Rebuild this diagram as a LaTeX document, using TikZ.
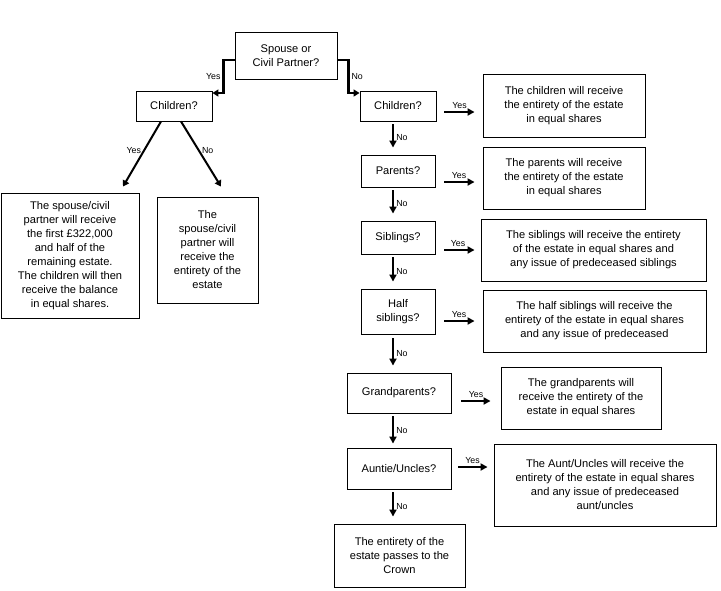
\documentclass[tikz,border=0pt]{standalone}
\usepackage{fontspec}
\setmainfont{Liberation Sans}
\usetikzlibrary{arrows.meta}
\begin{document}
\begin{tikzpicture}[x=1pt, y=-1pt, font=\fontsize{11.1}{14}\selectfont]
        \tikzstyle{box}=[draw, rectangle, line width=0.9pt, align=center, inner sep=0pt];
        \tikzstyle{lbl}=[font=\fontsize{8.8}{10}\selectfont, inner sep=2pt];
        \tikzstyle{arr}=[-{Triangle[length=7pt,width=7pt]}, line width=2.7pt];
        \tikzstyle{conn}=[-{Triangle[length=6pt,width=7pt]}, line width=2.2pt];
        \useasboundingbox (0,0) rectangle (721,590);

        \node[box, minimum width=102pt, minimum height=47pt] (spouse) at (286,55.5) {Spouse or\\Civil Partner?};
        \node[box, minimum width=76pt, minimum height=30pt] (chl) at (174,106) {Children?};
        \node[box, minimum width=138pt, minimum height=125pt] (both) at (70,255.5) {The spouse/civil\\partner will receive\\the first £322,000\\and half of the\\remaining estate.\\The children will then\\receive the balance\\in equal shares.};
        \node[box, minimum width=101pt, minimum height=106pt] (spo) at (207.5,250) {The\\spouse/civil\\partner will\\receive the\\entirety of the\\estate};

        \node[box, minimum width=76pt, minimum height=30pt] (chr) at (398,106) {Children?};
        \node[box, minimum width=162pt, minimum height=63pt] (kids) at (564,105.5) {The children will receive\\the entirety of the estate\\in equal shares};
        \node[box, minimum width=74pt, minimum height=32pt] (par) at (398,171) {Parents?};
        \node[box, minimum width=162pt, minimum height=62pt] (parres) at (564,178) {The parents will receive\\the entirety of the estate\\in equal shares};
        \node[box, minimum width=74pt, minimum height=33pt] (sib) at (398,237.5) {Siblings?};
        \node[box, minimum width=225pt, minimum height=62pt] (sibres) at (593.5,250) {The siblings will receive the entirety\\of the estate in equal shares and\\any issue of predeceased siblings};
        \node[box, minimum width=74pt, minimum height=45pt] (half) at (398,311.5) {Half\\siblings?};
        \node[box, minimum width=223pt, minimum height=62pt] (halfres) at (594.5,321) {The half siblings will receive the\\entirety of the estate in equal shares\\and any issue of predeceased};
        \node[box, minimum width=104pt, minimum height=40pt] (gp) at (399,393) {Grandparents?};
        \node[box, minimum width=160pt, minimum height=62pt] (gpres) at (581,398) {The grandparents will\\receive the entirety of the\\estate in equal shares};
        \node[box, minimum width=104pt, minimum height=41pt] (au) at (399,468.5) {Auntie/Uncles?};
        \node[box, minimum width=222pt, minimum height=82pt] (aures) at (605,485) {The Aunt/Uncles will receive the\\entirety of the estate in equal shares\\and any issue of predeceased\\aunt/uncles};
        \node[box, minimum width=131pt, minimum height=63pt] (crown) at (399.5,555.5) {The entirety of the\\estate passes to the\\Crown};

        \draw[conn] ([yshift=-4.5pt]spouse.west) -- ++(-11,0) |- node[lbl, left, pos=0.25] {Yes} ([yshift=13pt]chl.east);
        \draw[conn] ([yshift=-4.5pt]spouse.east) -- ++(11,0) |- node[lbl, right, pos=0.25] {No} ([yshift=13pt]chr.west);

        \draw[conn, line width=2pt] ([xshift=-13pt]chl.south) -- node[lbl, left, pos=0.45] {Yes} ([xshift=53pt,yshift=6pt]both.north);
        \draw[conn, line width=2pt] ([xshift=7pt]chl.south) -- node[lbl, right, pos=0.45] {No} ([xshift=13.5pt,yshift=10pt]spo.north);

        \draw[arr, shorten <=8pt, shorten >=8pt] ([yshift=-6pt]chr.east) -- node[lbl, above] {Yes} ([yshift=-6pt]chr.east -| kids.west);
        \draw[arr, shorten <=9pt, shorten >=8pt] ([yshift=-11pt]par.east) -- node[lbl, above] {Yes} ([yshift=-11pt]par.east -| parres.west);
        \draw[arr, shorten <=9pt, shorten >=6pt] ([yshift=-12.5pt]sib.east) -- node[lbl, above] {Yes} ([yshift=-12.5pt]sib.east -| sibres.west);
        \draw[arr, shorten <=9pt, shorten >=8pt] ([yshift=-9.5pt]half.east) -- node[lbl, above] {Yes} ([yshift=-9.5pt]half.east -| halfres.west);
        \draw[arr, shorten <=10pt, shorten >=10pt] ([yshift=-8pt]gp.east) -- node[lbl, above] {Yes} ([yshift=-8pt]gp.east -| gpres.west);
        \draw[arr, shorten <=7pt, shorten >=6pt] ([yshift=1.5pt]au.east) -- node[lbl, above] {Yes} ([yshift=1.5pt]au.east -| aures.west);

        \draw[arr, shorten <=3pt, shorten >=7pt] ([xshift=-5pt]chr.south) -- node[lbl, right] {No} ([xshift=-5pt]chr.south |- par.north);
        \draw[arr, shorten <=3pt, shorten >=7pt] ([xshift=-5pt]par.south) -- node[lbl, right] {No} ([xshift=-5pt]par.south |- sib.north);
        \draw[arr, shorten <=3pt, shorten >=7pt] ([xshift=-5pt]sib.south) -- node[lbl, right] {No} ([xshift=-5pt]sib.south |- half.north);
        \draw[arr, shorten <=4pt, shorten >=7pt] ([xshift=-5pt]half.south) -- node[lbl, right] {No} ([xshift=-5pt]half.south |- gp.north);
        \draw[arr, shorten <=3pt, shorten >=4pt] ([xshift=-6pt]gp.south) -- node[lbl, right] {No} ([xshift=-6pt]gp.south |- au.north);
        \draw[arr, shorten <=3pt, shorten >=7pt] ([xshift=-6pt]au.south) -- node[lbl, right] {No} ([xshift=-6pt]au.south |- crown.north);
    \end{tikzpicture}
\end{document}
